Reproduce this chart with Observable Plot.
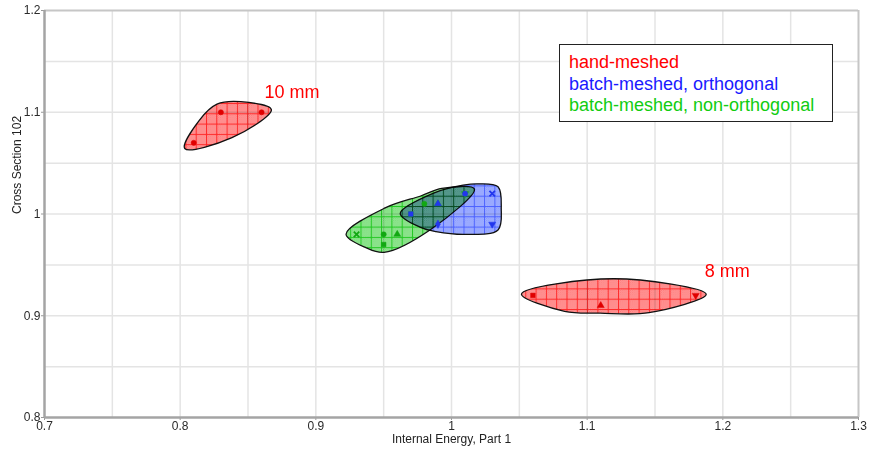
<!DOCTYPE html>
<html><head><meta charset="utf-8">
<script src="https://cdn.jsdelivr.net/npm/d3@7"></script>
<script src="https://cdn.jsdelivr.net/npm/@observablehq/plot@0.6"></script>
<style>
body{margin:0;background:#fff;}
#wrap{position:relative;width:870px;height:452px;}
#legend{position:absolute;left:559px;top:44px;width:263px;height:69px;border:1px solid #222;background:#fff;
font:18px "Liberation Sans",Arial,sans-serif;line-height:21.5px;padding:7px 0 0 9px;white-space:nowrap;}
</style></head>
<body><div id="wrap"></div>
<script>
// ---- data ----
const xTicks = [0.7, 0.8, 0.9, 1.0, 1.1, 1.2, 1.3];
const yTicks = [0.8, 0.9, 1.0, 1.1, 1.2];
const xGrid = [0.75, 0.8, 0.85, 0.9, 0.95, 1.0, 1.05, 1.1, 1.15, 1.2, 1.25];
const yGrid = [0.85, 0.9, 0.95, 1.0, 1.05, 1.1, 1.15];
const xLabel = "Internal Energy, Part 1";
const yLabel = "Cross Section 102";

const seriesNames = ["hand-meshed", "batch-meshed, orthogonal", "batch-meshed, non-orthogonal"];
const seriesColors = ["#ff0000", "#1a1aff", "#11cc11"];

const red10X = [0.81, 0.83, 0.86];
const red10Y = [1.07, 1.10, 1.10];
const red10S = ["circle", "circle", "circle"];
const red10Label = "10 mm";

const red8X = [1.06, 1.11, 1.18];
const red8Y = [0.92, 0.91, 0.92];
const red8S = ["square", "triangle", "tdown"];
const red8Label = "8 mm";

const blueX = [0.97, 0.99, 0.99, 1.01, 1.03, 1.03];
const blueY = [1.00, 1.01, 0.99, 1.02, 1.02, 0.99];
const blueS = ["square", "triangle", "diamond", "circle", "times", "tdown"];

const greenX = [0.93, 0.95, 0.95, 0.96, 0.97, 0.98, 0.99, 1.01];
const greenY = [0.98, 0.98, 0.97, 0.98, 1.00, 1.01, 1.01, 1.02];
const greenS = ["times", "circle", "square", "triangle", "square", "circle", "triangle", "tdown"];

// ---- helpers ----
const rows = (xs, ys, ss) => xs.map((x, i) => ({x, y: ys[i], s: ss[i]}));
const red10 = rows(red10X, red10Y, red10S);
const red8 = rows(red8X, red8Y, red8S);
const blue = rows(blueX, blueY, blueS);
const green = rows(greenX, greenY, greenS);

const blobs = [
  {data: red10, id: "pr", base1: "#ff7070", base2: "#ffaaaa", line: "#ff2a2a"},
  {data: red8, id: "pr", base1: "#ff7070", base2: "#ffaaaa", line: "#ff2a2a"},
  {data: green, id: "pg", base1: "#6ad86a", base2: "#a8eca8", line: "#22c822"},
  {data: blue, id: "pb", base1: "#7e92ff", base2: "#b4c0ff", line: "#4c62ff"}
];

function blobPath(data, sx, sy, pad, f) {
  const pts = data.map(d => [sx(d.x), sy(d.y)]);
  const hull = d3.polygonHull(pts) || pts;
  const n = hull.length;
  const cx = d3.mean(hull, p => p[0]), cy = d3.mean(hull, p => p[1]);
  const norm = (a, b) => {
    let nx = b[1] - a[1], ny = -(b[0] - a[0]);
    const L = Math.hypot(nx, ny) || 1; nx /= L; ny /= L;
    const mx = (a[0] + b[0]) / 2 - cx, my = (a[1] + b[1]) / 2 - cy;
    if (nx * mx + ny * my < 0) { nx = -nx; ny = -ny; }
    return [nx, ny];
  };
  const out = [];
  for (let i = 0; i < n; i++) {
    const p = hull[(i - 1 + n) % n], c = hull[i], q = hull[(i + 1) % n];
    const n1 = norm(p, c), n2 = norm(c, q);
    let bx = n1[0] + n2[0], by = n1[1] + n2[1];
    const L = Math.hypot(bx, by) || 1;
    const cosHalf = L / 2;
    const k = pad * (1 + 0.4 * (1 - cosHalf));
    out.push([c[0] + bx / L * k, c[1] + by / L * k]);
    const len = Math.hypot(q[0] - c[0], q[1] - c[1]);
    const m = pad + f * len;
    out.push([(c[0] + q[0]) / 2 + n2[0] * m, (c[1] + q[1]) / 2 + n2[1] * m]);
  }
  return d3.line().curve(d3.curveCatmullRomClosed.alpha(0.5))(out);
}

function blobMark(index, scales) {
  const sx = scales.x, sy = scales.y;
  const g = d3.create("svg:g");
  const defs = g.append("defs");
  const done = new Set();
  for (const b of blobs) {
    if (done.has(b.id)) continue;
    done.add(b.id);
    const ck = defs.append("pattern").attr("id", b.id + "c").attr("patternUnits", "userSpaceOnUse")
      .attr("width", 2).attr("height", 2);
    ck.append("rect").attr("width", 2).attr("height", 2).attr("fill", b.base2);
    ck.append("rect").attr("width", 1).attr("height", 1).attr("fill", b.base1);
    ck.append("rect").attr("x", 1).attr("y", 1).attr("width", 1).attr("height", 1).attr("fill", b.base1);
    const pt = defs.append("pattern").attr("id", b.id).attr("patternUnits", "userSpaceOnUse")
      .attr("width", 10.3).attr("height", 10.3);
    pt.append("rect").attr("width", 10.3).attr("height", 10.3).attr("fill", `url(#${b.id}c)`);
    pt.append("rect").attr("x", 0).attr("y", 0).attr("width", 1).attr("height", 10.3).attr("fill", b.line);
    pt.append("rect").attr("x", 0).attr("y", 0).attr("width", 10.3).attr("height", 1).attr("fill", b.line);
  }
  for (const b of blobs) {
    g.append("path")
      .attr("d", blobPath(b.data, sx, sy, 8, 0.05))
      .attr("fill", `url(#${b.id})`)
      .attr("stroke", "#111")
      .attr("stroke-width", 1.3)
      .style("mix-blend-mode", "multiply");
  }
  return g.node();
}

const dotOpts = (fill) => ({
  x: "x", y: "y",
  symbol: d => d.s === "tdown" ? "triangle" : d.s,
  rotate: d => d.s === "tdown" ? 180 : 0,
  r: 2.6, fill, stroke: fill,
  strokeWidth: d => d.s === "times" ? 1.8 : 0.5
});

const last = arr => arr.reduce((a, b) => (b.x > a.x ? b : a));

const plot = Plot.plot({
  width: 870, height: 452,
  marginLeft: 44, marginRight: 12, marginTop: 10, marginBottom: 35,
  style: {fontFamily: "'Liberation Sans', Arial, sans-serif", fontSize: "12px", color: "#2a2a2a", background: "#fff", overflow: "visible"},
  x: {domain: [0.7, 1.3], ticks: xTicks, tickFormat: d => String(+d.toFixed(2)), tickSize: 3, tickPadding: 1, label: null},
  y: {domain: [0.8, 1.2], ticks: yTicks, tickFormat: d => String(+d.toFixed(2)), tickSize: 3, tickPadding: 1, label: null},
  marks: [
    Plot.ruleX(xGrid, {stroke: "#e4e4e4", strokeWidth: 1.5}),
    Plot.ruleY(yGrid, {stroke: "#e4e4e4", strokeWidth: 1.5}),
    Plot.ruleY([1.2], {stroke: "#c6c6c6", strokeWidth: 2}),
    Plot.ruleX([1.3], {stroke: "#c6c6c6", strokeWidth: 2}),
    blobMark,
    Plot.dot(red10, dotOpts("#e00000")),
    Plot.dot(red8, dotOpts("#e00000")),
    Plot.dot(green, dotOpts("#12a812")),
    Plot.dot(blue, dotOpts("#2236ee")),
    Plot.ruleX([0.7], {stroke: "#a4a4a4", strokeWidth: 2.5}),
    Plot.ruleY([0.8], {stroke: "#a4a4a4", strokeWidth: 2.5}),
    Plot.text([last(red10)], {x: "x", y: "y", text: () => red10Label, dx: 3, dy: -20, textAnchor: "start", fill: "#ff0000", fontSize: 18}),
    Plot.text([last(red8)], {x: "x", y: "y", text: () => red8Label, dx: 9, dy: -24, textAnchor: "start", fill: "#ff0000", fontSize: 18}),
    Plot.text([xLabel], {frameAnchor: "bottom", dy: 25, text: d => d, fill: "#222"}),
    Plot.text([yLabel], {frameAnchor: "left", dx: -27, rotate: -90, text: d => d, fill: "#222"})
  ]
});

d3.select(plot).selectAll('[aria-label$="tick"]').attr("stroke", "#999");
const wrap = document.getElementById("wrap");
wrap.appendChild(plot);
const lg = document.createElement("div");
lg.id = "legend";
seriesNames.forEach((n, i) => {
  const d = document.createElement("div");
  d.textContent = n; d.style.color = seriesColors[i];
  lg.appendChild(d);
});
wrap.appendChild(lg);
</script></body></html>
